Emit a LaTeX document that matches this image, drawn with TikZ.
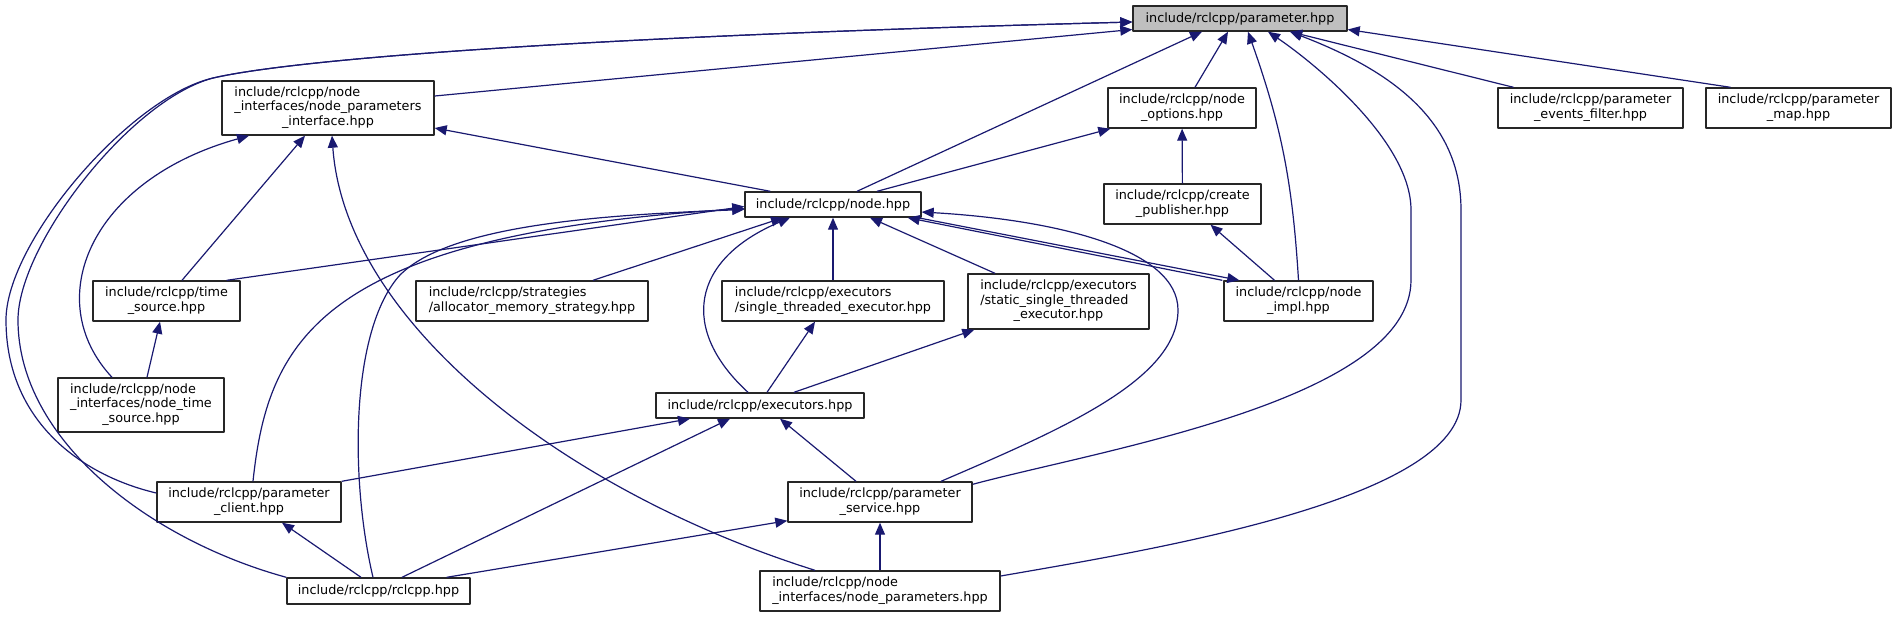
\documentclass[tikz,border=0pt]{standalone}
\usepackage{fontspec}
\setmainfont{DejaVu Sans}
\usetikzlibrary{arrows.meta}
\definecolor{edgeblue}{RGB}{25,25,112}
\definecolor{rootgray}{RGB}{191,191,191}
\newcommand{\twoline}[2]{\begin{tabular}{@{}l@{}}#1\\\multicolumn{1}{@{}c@{}}{#2}\end{tabular}}
\newcommand{\threeline}[3]{\begin{tabular}{@{}l@{}}#1\\#2\\\multicolumn{1}{@{}c@{}}{#3}\end{tabular}}
\begin{document}
\begin{tikzpicture}[x=0.5pt,y=-0.5pt, line join=round, >={Triangle[length=6pt,width=5pt]},
		box/.style={draw=black!85, line width=0.7pt, fill=white, inner sep=1pt, font=\fontsize{6.4pt}{7.25pt}\selectfont},
		one/.style={minimum height=12.5pt}, two/.style={minimum height=20pt}, three/.style={minimum height=27pt},
		dep/.style={->, edgeblue, line width=0.6pt}]
		\useasboundingbox (0,0) rectangle (1896,617);
		\node[box, one, fill=rootgray, minimum width=107pt] (param) at (1240,18.5) {include/rclcpp/parameter.hpp};
		\node[box, three, minimum width=106pt] (npi) at (328,108) {\threeline{include/rclcpp/node}{\_interfaces/node\_parameters}{\_interface.hpp}};
		\node[box, two, minimum width=74pt] (nopt) at (1182,108) {\twoline{include/rclcpp/node}{\_options.hpp}};
		\node[box, two, minimum width=92.5pt] (pef) at (1590.5,108) {\twoline{include/rclcpp/parameter}{\_events\_filter.hpp}};
		\node[box, two, minimum width=92.5pt] (pmap) at (1798.5,108) {\twoline{include/rclcpp/parameter}{\_map.hpp}};
		\node[box, two, minimum width=78.5pt] (cpub) at (1182.5,204) {\twoline{include/rclcpp/create}{\_publisher.hpp}};
		\node[box, one, minimum width=88pt] (node) at (833,204.5) {include/rclcpp/node.hpp};
		\node[box, two, minimum width=73.5pt] (tsrc) at (166.5,301) {\twoline{include/rclcpp/time}{\_source.hpp}};
		\node[box, two, minimum width=116pt] (strat) at (532,301) {\twoline{include/rclcpp/strategies}{/allocator\_memory\_strategy.hpp}};
		\node[box, two, minimum width=111pt] (single) at (833,301) {\twoline{include/rclcpp/executors}{/single\_threaded\_executor.hpp}};
		\node[box, three, minimum width=90.5pt, minimum height=27.5pt] (static) at (1058.5,301.5) {\threeline{include/rclcpp/executors}{/static\_single\_threaded}{\_executor.hpp}};
		\node[box, two, minimum width=74.5pt] (nimpl) at (1298.5,301) {\twoline{include/rclcpp/node}{\_impl.hpp}};
		\node[box, three, minimum width=83pt] (nts) at (141,405) {\threeline{include/rclcpp/node}{\_interfaces/node\_time}{\_source.hpp}};
		\node[box, one, minimum width=104pt] (exec) at (760,405.5) {include/rclcpp/executors.hpp};
		\node[box, two, minimum width=92pt] (pcli) at (249,502) {\twoline{include/rclcpp/parameter}{\_client.hpp}};
		\node[box, two, minimum width=92pt] (psrv) at (880,502) {\twoline{include/rclcpp/parameter}{\_service.hpp}};
		\node[box, one, minimum width=91.5pt, minimum height=13pt] (rcl) at (378.5,591) {include/rclcpp/rclcpp.hpp};
		\node[box, two, minimum width=120pt] (nparams) at (880,591) {\twoline{include/rclcpp/node}{\_interfaces/node\_parameters.hpp}};

		\draw[dep] ([yshift=6pt]npi.east) -- ([yshift=-5.5pt]param.west);
		\draw[dep] ([yshift=4.5pt]pcli.west) .. controls (80,475) and (6,420) .. (6,320) .. controls (6,242) and (130,97) .. (213,78) .. controls (300,58) and (600,36) .. ([yshift=-1.75pt]param.west);
		\draw[dep] (rcl.north west) .. controls (150,540) and (18,440) .. (18,320) .. controls (18,245) and (130,100) .. (213,78) .. controls (300,58) and (600,36) .. ([yshift=-1.75pt]param.west);
		\draw[dep] ([xshift=12pt]node.north) -- ([xshift=-19pt]param.south);
		\draw[dep] ([xshift=6.5pt]nopt.north) -- ([xshift=-6pt]param.south);
		\draw[dep] (nimpl.north) to[bend right=8] ([xshift=4pt]param.south);
		\draw[dep] ([yshift=-1.5pt]psrv.north east) .. controls (1100,450) and (1411,400) .. (1411,280) -- (1411,210) .. controls (1411,140) and (1310,60) .. ([xshift=14pt]param.south);
		\draw[dep] ([yshift=7.5pt]nparams.east) .. controls (1150,550) and (1461,500) .. (1461,400) -- (1461,210) .. controls (1461,120) and (1390,70) .. ([xshift=25pt]param.south);
		\draw[dep] ([xshift=-38.5pt]pef.north) -- ([xshift=25pt]param.south);
		\draw[dep] ([xshift=-34pt]pmap.north) -- ([yshift=-5.5pt]param.east);

		\draw[dep] ([xshift=13pt]node.north west) -- ([yshift=-10pt]npi.east);
		\draw[dep] ([xshift=7.75pt]tsrc.north) -- ([xshift=-11.5pt]npi.south);
		\draw[dep] ([xshift=-14.5pt]nts.north) .. controls (40,300) and (90,180) .. ([xshift=-39.5pt]npi.south);
		\draw[dep] ([xshift=-32.5pt]nparams.north) .. controls (560,490) and (345,320) .. ([xshift=2pt]npi.south);

		\draw[dep] ([xshift=22pt]node.north) -- ([xshift=1.5pt]nopt.south west);
		\draw[dep] (cpub) -- (nopt);
		\draw[dep] ([xshift=-12pt]nimpl.north) -- ([xshift=14pt]cpub.south);

		\draw[dep] ([xshift=-7pt]tsrc.north east) -- ([yshift=-1pt]node.west);
		\draw[dep] ([xshift=2pt]pcli.north) .. controls (268,340) and (320,235) .. ([yshift=-2pt]node.west);
		\draw[dep] ([xshift=-2.75pt]rcl.north) .. controls (350,480) and (350,330) .. (400,275) .. controls (450,225) and (600,215) .. ([yshift=-2.5pt]node.west);
		\draw[dep] ([xshift=-6pt]exec.north) .. controls (680,330) and (690,260) .. ([xshift=-21.5pt]node.south);
		\draw[dep] ([xshift=30.5pt]strat.north) -- ([xshift=-25pt]node.south);
		\draw[dep] (single) -- (node);
		\draw[dep] ([xshift=-31.75pt]static.north) -- ([xshift=18.5pt]node.south);
		\draw[dep] ([xshift=-0.5pt]nimpl.north west) -- ([xshift=-7pt]node.south east);
		\draw[dep] ([xshift=-2pt]node.south east) -- ([xshift=8pt]nimpl.north west);
		\draw[dep] ([xshift=30.5pt]psrv.north) .. controls (1060,430) and (1178,380) .. (1178,310) .. controls (1178,250) and (1060,220) .. ([yshift=-3.75pt]node.east);

		\draw[dep] ([xshift=3pt]nts.north) -- ([xshift=-3.25pt]tsrc.south);
		\draw[dep] ([xshift=3.5pt]exec.north) -- ([xshift=-9pt]single.south);
		\draw[dep] ([xshift=17pt]exec.north) -- ([xshift=3.5pt]static.south west);
		\draw[dep] (pcli.north east) -- ([xshift=-35pt]exec.south);
		\draw[dep] ([xshift=11.75pt]rcl.north) -- ([xshift=-15pt]exec.south);
		\draw[dep] ([xshift=-12pt]psrv.north) -- ([xshift=10pt]exec.south);
		\draw[dep] ([xshift=-8.75pt]rcl.north) -- ([xshift=16.5pt]pcli.south);
		\draw[dep] (nparams) -- (psrv);
		\draw[dep] ([xshift=-12pt]rcl.north east) -- ([yshift=1pt]psrv.south west);
\end{tikzpicture}
\end{document}
